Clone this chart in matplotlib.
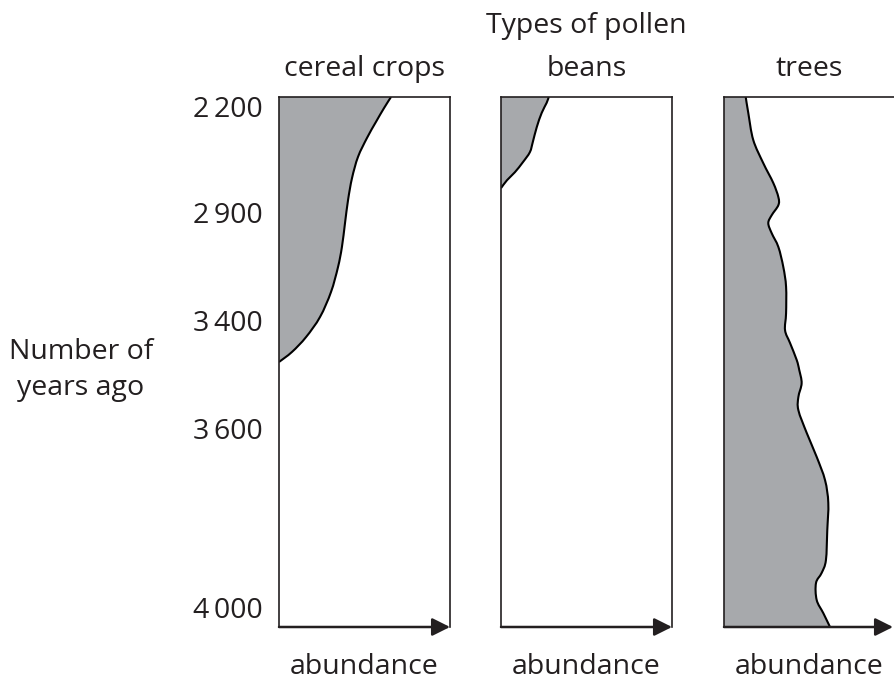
import matplotlib
matplotlib.use('Agg')
import matplotlib.pyplot as plt
from matplotlib.path import Path
from matplotlib.patches import PathPatch
import numpy as np

plt.rcParams['font.family'] = ['Open Sans', 'DejaVu Sans']

# ---------------- data ----------------
main_title = 'Types of pollen'
panel_titles = ['cereal crops', 'beans', 'trees']
x_label = 'abundance'
y_label = 'Number of\nyears ago'
year_labels = ['2\u2009200', '2\u2009900', '3\u2009400', '3\u2009600', '4\u2009000']
# position of each year label on the core (0 = top, 100 = bottom of the column)
year_positions = [1.7, 21.7, 42.1, 62.5, 96.4]

# abundance (% of column width) against position on the core (0 top .. 100 bottom)
cereal_abundance = [65.5, 61.4, 56.7, 51.5, 46.2, 42.7, 40.4, 38.6, 36.8, 34.5, 30.4, 24.0, 15.8, 7.6, 0.0]
cereal_depth     = [0.0, 2.1, 4.7, 7.7, 11.3, 15.3, 19.4, 23.8, 28.3, 32.1, 36.8, 41.5, 45.3, 48.1, 50.0]

bean_abundance = [27.9, 26.7, 23.8, 20.9, 18.6, 16.9, 12.8, 8.1, 3.5, 0.0]
bean_depth     = [0.0, 1.1, 3.0, 5.7, 8.5, 10.4, 12.3, 14.2, 15.7, 17.2]

tree_abundance = [12.7, 14.2, 17.1, 23.0, 28.8, 31.8, 31.8, 27.9, 25.9, 27.9, 31.8, 34.7, 36.3, 36.3,
                  35.7, 38.6, 42.5, 44.0, 45.4, 43.5, 43.5, 48.4, 54.2, 59.1, 61.0, 60.4, 59.6, 57.1,
                  53.8, 54.2, 58.1, 62.0]
tree_depth     = [0.0, 3.0, 8.1, 12.5, 16.2, 18.9, 20.4, 22.3, 23.8, 25.7, 28.3, 32.1, 35.8, 40.8,
                  44.0, 46.4, 49.6, 51.5, 54.0, 56.6, 59.1, 63.4, 67.9, 72.3, 76.6, 81.7, 87.4, 89.8,
                  91.7, 94.9, 97.4, 100.0]

series = [(cereal_abundance, cereal_depth), (bean_abundance, bean_depth), (tree_abundance, tree_depth)]

# ---------------- drawing ----------------
W, H = 894, 682
fig = plt.figure(figsize=(W / 100, H / 100), dpi=100)

INK = '#231F20'
FILL = '#A7A9AC'
FS = 20.5

panel_left_px = [279, 501, 724]
panel_w_px = 171
top_px, bottom_px = 97, 627


def smooth(xs, ys):
    pts = np.column_stack([xs, ys]).astype(float)
    n = len(pts)
    verts = [pts[0]]
    codes = [Path.MOVETO]
    for i in range(n - 1):
        p0 = pts[max(i - 1, 0)]
        p1 = pts[i]
        p2 = pts[i + 1]
        p3 = pts[min(i + 2, n - 1)]
        verts += [p1 + (p2 - p0) / 6.0, p2 - (p3 - p1) / 6.0, p2]
        codes += [Path.CURVE4] * 3
    return verts, codes


for k, (xs, ys) in enumerate(series):
    left = panel_left_px[k] / W
    ax = fig.add_axes([left, 1 - bottom_px / H, panel_w_px / W, (bottom_px - top_px) / H])
    ax.set_xlim(0, 100)
    ax.set_ylim(100, 0)
    ax.patch.set_alpha(0)

    verts, codes = smooth(xs, ys)
    fv = list(verts)
    fc = list(codes)
    if xs[-1] > 0:
        fv.append((0, ys[-1]))
        fc.append(Path.LINETO)
    fv.append((0, 0))
    fc.append(Path.LINETO)
    fv.append((0, 0))
    fc.append(Path.CLOSEPOLY)
    ax.add_patch(PathPatch(Path(fv, fc), facecolor=FILL, edgecolor='none', zorder=1))
    ax.add_patch(PathPatch(Path(verts, codes), facecolor='none', edgecolor='black', lw=1.5, zorder=2))

    for s in ['left', 'top', 'right']:
        ax.spines[s].set_color(INK)
        ax.spines[s].set_linewidth(1.2)
        ax.spines[s].set_zorder(3)
    ax.spines['bottom'].set_visible(False)
    if k == 2:
        ax.spines['right'].set_visible(False)

    tip = 1.0 if k < 2 else (W - 1 - panel_left_px[k]) / panel_w_px
    ax.annotate('', xy=(tip, 0), xytext=(0, 0), xycoords='axes fraction',
                arrowprops=dict(arrowstyle='-|>', lw=1.8, color=INK, shrinkA=0, shrinkB=0,
                                mutation_scale=27), annotation_clip=False)

    ax.set_xticks([])
    if k == 0:
        ax.set_yticks(year_positions, year_labels)
        ax.tick_params(axis='y', length=0, pad=12, labelsize=FS, labelcolor=INK)
    else:
        ax.set_yticks([])

    cx = (panel_left_px[k] + panel_w_px / 2) / W
    fig.text(cx, 1 - 76 / H, panel_titles[k], ha='center', va='baseline', fontsize=FS, color=INK)
    fig.text(cx, 1 - 674 / H, x_label, ha='center', va='baseline', fontsize=FS, color=INK)

fig.text((panel_left_px[1] + panel_w_px / 2) / W, 1 - 33 / H, main_title,
         ha='center', va='baseline', fontsize=FS, color=INK)
fig.text(81 / W, 1 - 370 / H, y_label, ha='center', va='center', multialignment='center',
         fontsize=FS, color=INK, linespacing=1.35)

fig.savefig('out.png', dpi=100)
